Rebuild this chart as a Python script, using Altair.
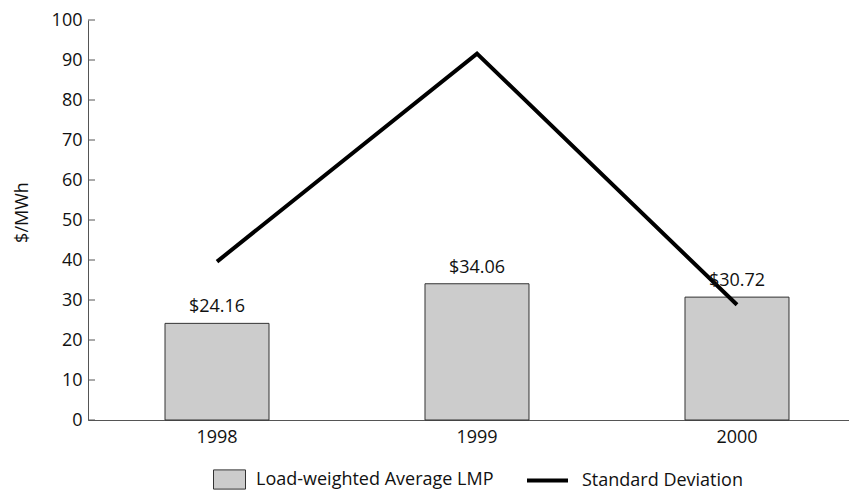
import altair as alt
import pandas as pd

years = ["1998", "1999", "2000"]
avg_lmp = [24.16, 34.06, 30.72]
std_dev = [39.6, 91.6, 28.8]
lmp_labels = ["$24.16", "$34.06", "$30.72"]
y_ticks = [0, 10, 20, 30, 40, 50, 60, 70, 80, 90, 100]
series_bar = "Load-weighted Average LMP"
series_line = "Standard Deviation"

FONT = "Open Sans"
FS = 18

df = pd.DataFrame({
    "year": years,
    "lmp": avg_lmp,
    "std": std_dev,
    "label": lmp_labels,
    "s1": series_bar,
    "s2": series_line,
})
ticks_df = pd.DataFrame({"t": y_ticks})

xscale = alt.Scale(domain=years, paddingInner=0.6, paddingOuter=0.2635, align=0.562)
xaxis = alt.Axis(title=None, labelAngle=0, ticks=False, domainColor="#555555",
                 labelPadding=8, labelFontSize=FS, labelFont=FONT, labelColor="#111111")
yscale = alt.Scale(domain=[0, 100], nice=False, zero=True)
yaxis = alt.Axis(title="$/MWh", values=y_ticks, ticks=False, grid=False,
                 domainColor="#555555", labelPadding=6, labelFontSize=FS,
                 labelFont=FONT, labelColor="#111111", titleFont=FONT,
                 titleFontSize=FS, titleFontWeight="normal", titleColor="#111111",
                 titlePadding=20, titleY=192)

base = alt.Chart(df)

bars = base.mark_bar(stroke="#333333", strokeWidth=1).encode(
    x=alt.X("year:N", scale=xscale, axis=xaxis),
    y=alt.Y("lmp:Q", scale=yscale, axis=yaxis),
    fill=alt.Fill("s1:N", scale=alt.Scale(range=["#cccccc"]),
                  legend=alt.Legend(title=None, orient="none", legendX=125, legendY=443,
                                    symbolType="M-1,-0.6H1V0.6H-1Z", symbolSize=1024,
                                    symbolStrokeColor="#333333", symbolStrokeWidth=1,
                                    symbolFillColor="#cccccc",
                                    labelFont=FONT, labelFontSize=FS, labelColor="#111111",
                                    labelOffset=10, labelLimit=0, padding=0)),
)

line = base.mark_line(color="black", strokeWidth=4).encode(
    x=alt.X("year:N", scale=xscale, axis=xaxis),
    y=alt.Y("std:Q", scale=yscale, axis=yaxis),
    stroke=alt.Stroke("s2:N", scale=alt.Scale(range=["black"]),
                      legend=alt.Legend(title=None, orient="none", legendX=437, legendY=438,
                                        symbolType="stroke", symbolSize=1681,
                                        symbolStrokeWidth=4,
                                        labelFont=FONT, labelFontSize=FS, labelColor="#111111",
                                        labelOffset=12, labelLimit=0, padding=0)),
)

text = base.mark_text(baseline="bottom", dy=-7, font=FONT, fontSize=FS, color="#111111").encode(
    x=alt.X("year:N", scale=xscale, axis=xaxis),
    y=alt.Y("lmp:Q", scale=yscale, axis=yaxis),
    text="label:N",
)

yticks = alt.Chart(ticks_df).mark_rule(color="#555555", strokeWidth=1).encode(
    y=alt.Y("t:Q", scale=yscale, axis=yaxis),
    x=alt.value(0),
    x2=alt.value(7),
)

chart = alt.layer(bars, line, text, yticks).properties(
    width=761,
    height=400,
    background="white",
    autosize=alt.AutoSizeParams(type="none"),
    padding={"left": 80, "top": 12, "right": 0, "bottom": 72},
).configure_view(stroke=None)

chart.save("out.html", embed_options={"renderer": "svg", "actions": False})
